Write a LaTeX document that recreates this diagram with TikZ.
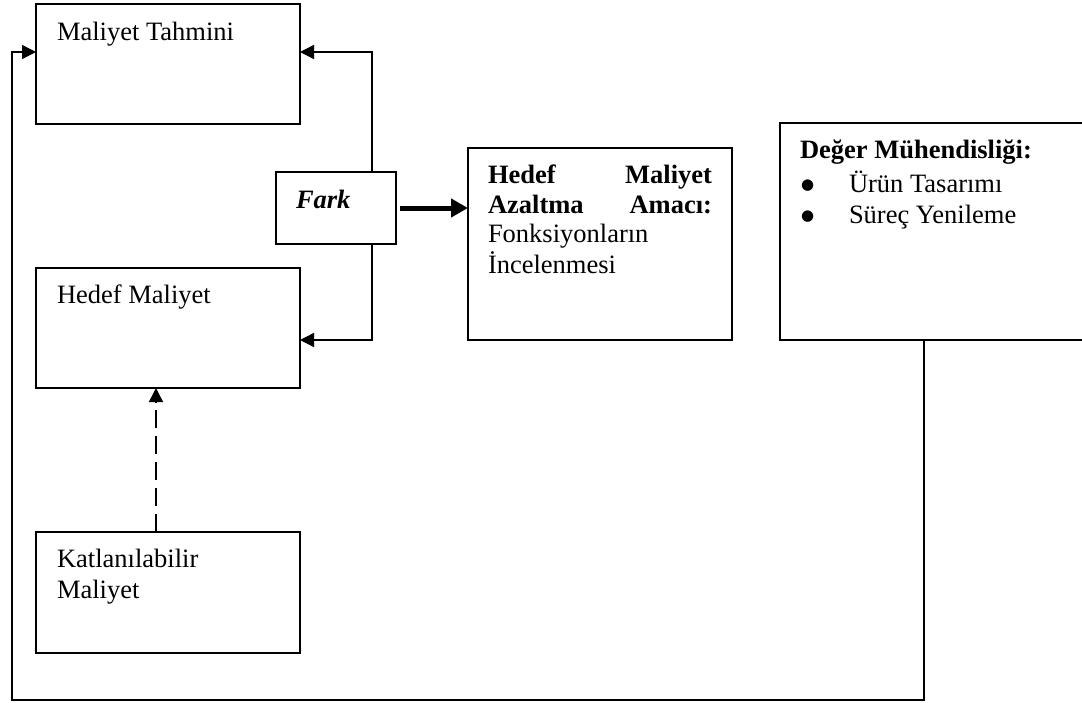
\documentclass[tikz,border=0pt]{standalone}
\usepackage{fontspec}
\setmainfont{Liberation Serif}
\newfontfamily\symfont{DejaVu Sans}
\usetikzlibrary{arrows.meta,calc}
\newcommand{\bigbul}{\raisebox{3pt}{{\symfont\fontsize{15}{16}\selectfont ●}}}
\begin{document}
\begin{tikzpicture}[x=1pt,y=-1pt,
  box/.style={draw,line width=1.5pt,rectangle,anchor=north west,inner sep=0pt,outer sep=0pt},
  txt/.style={anchor=base west,inner sep=0pt,outer sep=0pt,font=\fontsize{26.5}{30.5}\selectfont},
  conn/.style={line width=1.6pt,-{Triangle[length=14pt,width=14pt]}},
  fat/.style={line width=5pt,-{Triangle[length=17pt,width=18pt]}},
  dashline/.style={line width=1.6pt,dash pattern=on 18pt off 8pt,-{Triangle[length=14pt,width=14pt]}}]
\fill[white] (0,0) rectangle (1082,702);
\useasboundingbox (0,0) rectangle (1082,702);
% boxes
\node[box,minimum width=264pt,minimum height=120pt] (mt) at (36,4) {};
\node[box,minimum width=264pt,minimum height=120pt] (hm) at (36,268) {};
\node[box,minimum width=264pt,minimum height=121pt] (km) at (36,532) {};
\node[box,minimum width=120pt,minimum height=72pt] (fark) at (276,172) {};
\node[box,minimum width=264pt,minimum height=192pt] (hmaa) at (468,148) {};
\node[box,minimum width=320pt,minimum height=217pt] (deger) at (780,123) {};
% texts
\node[txt] (mtT) at (57,40) {Maliyet Tahmini};
\node[txt] (hmT) at (57,303) {Hedef Maliyet};
\node[txt] (kmT1) at (57,567) {Katlanılabilir};
\node[txt] (kmT2) at (57,598) {Maliyet};
\node[txt] (farkT) at (296,208) {\textbf{\textit{Fark}}};
\node[txt,text width=224pt] (hmaaT1) at (488,183) {\textbf{Hedef}\hfill\textbf{Maliyet}};
\node[txt,text width=224pt] (hmaaT2) at (488,213) {\textbf{Azaltma}\hfill\textbf{Amacı:}};
\node[txt] (hmaaT3) at (488,242) {Fonksiyonların};
\node[txt] (hmaaT4) at (488,273) {İncelenmesi};
\node[txt] (degT) at (800,158) {\textbf{Değer Mühendisliği:}};
\node[txt] (b1) at (801,192) {\bigbul};
\node[txt] (degT1) at (849,192) {Ürün Tasarımı};
\node[txt] (b2) at (801,223) {\bigbul};
\node[txt] (degT2) at (849,223) {Süreç Yenileme};
% connectors
\draw[conn] ([xshift=-24pt]fark.north east) |- ([yshift=12pt]mt.east);
\draw[conn] ([xshift=-24pt]fark.south east) |- ([yshift=-12pt]hm.east);
\draw[fat] ([xshift=4pt]fark.east) -- (fark.east -| hmaa.west);
\draw[dashline] ([xshift=-12pt]km.north) -- ([xshift=-12pt]hm.south);
\coordinate (fb) at (12,700);
\draw[conn] ([xshift=-16pt]deger.south) |- (fb) |- ([yshift=12pt]mt.west);
\end{tikzpicture}
\end{document}
